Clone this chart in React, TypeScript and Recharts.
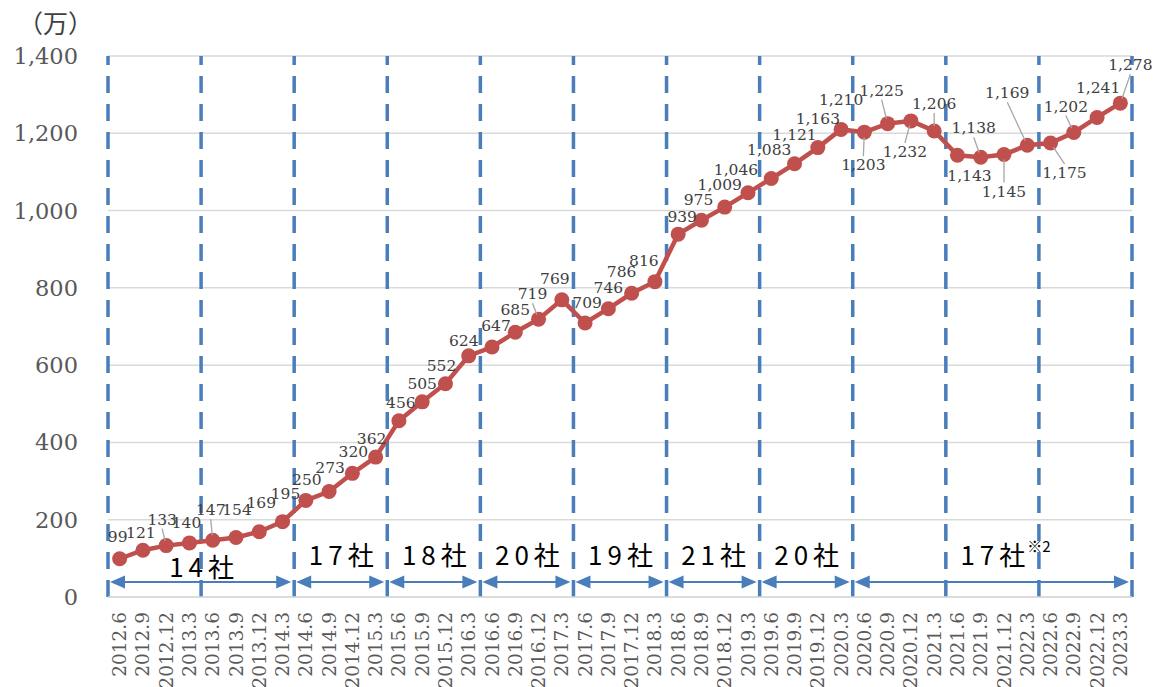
import React from "react";
import {
  LineChart,
  Line,
  XAxis,
  YAxis,
  CartesianGrid,
  ReferenceLine,
  ReferenceArea,
  LabelList,
} from "recharts";

// quarter-end periods (x axis)
const periods = [
  "2012.6", "2012.9", "2012.12", "2013.3",
  "2013.6", "2013.9", "2013.12", "2014.3",
  "2014.6", "2014.9", "2014.12", "2015.3",
  "2015.6", "2015.9", "2015.12", "2016.3",
  "2016.6", "2016.9", "2016.12", "2017.3",
  "2017.6", "2017.9", "2017.12", "2018.3",
  "2018.6", "2018.9", "2018.12", "2019.3",
  "2019.6", "2019.9", "2019.12", "2020.3",
  "2020.6", "2020.9", "2020.12", "2021.3",
  "2021.6", "2021.9", "2021.12", "2022.3",
  "2022.6", "2022.9", "2022.12", "2023.3",
];

// 万
const values = [
  99, 121, 133, 140, 147, 154, 169, 195,
  250, 273, 320, 362, 456, 505, 552, 624,
  647, 685, 719, 769, 709, 746, 786, 816,
  939, 975, 1009, 1046, 1083, 1121, 1163, 1210,
  1203, 1225, 1232, 1206, 1143, 1138, 1145, 1169,
  1175, 1202, 1241, 1278,
];

const yTicks = [0, 200, 400, 600, 800, 1000, 1200, 1400];

// dashed separators at the start of each fiscal year
const yearStarts = [
  "2012.6", "2013.6", "2014.6", "2015.6", "2016.6", "2017.6",
  "2018.6", "2019.6", "2020.6", "2021.6", "2022.6",
];
const lastPeriod = "2023.3";

// number of companies per span
const spanFrom = ["2012.6", "2014.6", "2015.6", "2016.6", "2017.6", "2018.6", "2019.6", "2020.6"];
const spanTo = ["2014.3", "2015.3", "2016.3", "2017.3", "2018.3", "2019.3", "2020.3", "2023.3"];
const spanLabels = ["14社", "17社", "18社", "20社", "19社", "21社", "20社", "17社"];
const spanNotes = ["", "", "", "", "", "", "", "※2"];

// label placement (dx, dy from the point, px) and leader flags
const labelShift: [number, number][] = [
  [-2, -22], [-2, -17], [-4, -26], [-3, -20], [-2, -30], [1, -27], [2, -29], [3, -28],
  [1, -20], [1, -24], [1, -21], [-4, -18], [2, -18], [0, -18], [-4, -18], [-5, -15],
  [4, -21], [0, -22], [-6, -25], [-7, -21], [2, -20], [0, -21], [-10, -21], [-11, -21],
  [4, -17], [-3, -20], [-5, -22], [-12, -23], [-2, -28], [0, -29], [0, -29], [0, -29],
  [-1, 33], [-6, -33], [-6, 31], [0, -27], [12, 21], [-7, -29], [0, 37], [-20, -52],
  [14, 30], [-8, -26], [1, -29], [10, -38],
];
const leaderAt = [2, 4, 18, 32, 33, 34, 35, 37, 38, 39, 40, 41, 43];

const chartData = periods.map((p, i) => ({ idx: i, period: p, users: values[i] }));
const pos = (p: string) => periods.indexOf(p);

const RED = "#c0504d";
const BLUE = "#4a7ebb";
const SERIF = "DejaVu Serif, Liberation Serif, serif";
const GOTHIC = "Noto Sans CJK JP, sans-serif";

const ValueLabel = (props: any) => {
  const { index, value } = props;
  const px = props.x ?? props.viewBox?.x;
  const py = props.y ?? props.viewBox?.y;
  const [dx, dy] = labelShift[index];
  const lx = px + dx;
  const ly = py + dy;
  let leader = null;
  if (leaderAt.includes(index)) {
    const sy = ly + (dy < 0 ? 9 : -9);
    const vx = px - lx;
    const vy = py - sy;
    const len = Math.sqrt(vx * vx + vy * vy);
    const ex = px - (vx / len) * 5;
    const ey = py - (vy / len) * 5;
    leader = <line x1={lx} y1={sy} x2={ex} y2={ey} stroke="#a6a6a6" strokeWidth={1.3} />;
  }
  return (
    <g>
      {leader}
      <text
        x={lx}
        y={ly}
        textAnchor="middle"
        dominantBaseline="central"
        style={{ fontFamily: SERIF, fontSize: 15.5 }}
        fill="#404040"
      >
        {Number(value).toLocaleString("en-US")}
      </text>
    </g>
  );
};

const PeriodTick = (props: any) => {
  const { x, y, payload } = props;
  const ty = y + 15;
  return (
    <text
      x={x}
      y={ty}
      transform={`rotate(-90, ${x}, ${ty})`}
      textAnchor="end"
      dominantBaseline="central"
      style={{ fontFamily: SERIF, fontSize: 18.5 }}
      fill="#595959"
    >
      {periods[payload.value]}
    </text>
  );
};

const spanShape = (i: number) => (props: any) => {
  const { x, y, width, height } = props;
  const ay = y + height - 15;
  const x1 = x + 2;
  const x2 = x + width - 3;
  const ty = y + height - 44 + (i === 0 ? 12 : 0);
  const cx = x + width / 2;
  return (
    <g>
      <line x1={x1 + 12} y1={ay} x2={x2 - 12} y2={ay} stroke={BLUE} strokeWidth={1.8} />
      <polygon points={`${x1},${ay} ${x1 + 15},${ay - 6.5} ${x1 + 15},${ay + 6.5}`} fill={BLUE} />
      <polygon points={`${x2},${ay} ${x2 - 15},${ay - 6.5} ${x2 - 15},${ay + 6.5}`} fill={BLUE} />
      <text
        x={cx + 3}
        y={ty}
        textAnchor="middle"
        dominantBaseline="central"
        style={{ fontFamily: GOTHIC, fontSize: 26, letterSpacing: 5 }}
        fill="#000"
      >
        {spanLabels[i]}
      </text>
      {spanNotes[i] ? (
        <text
          x={cx + 35}
          y={ty - 8}
          dominantBaseline="central"
          style={{ fontFamily: GOTHIC, fontSize: 15 }}
          fill="#000"
        >
          {spanNotes[i]}
        </text>
      ) : null}
    </g>
  );
};

export default function App() {
  return (
    <div style={{ position: "absolute", left: 0, top: 0, width: 1161, height: 687, background: "#fff" }}>
      <div
        style={{
          position: "absolute",
          left: 18,
          top: 7,
          fontFamily: GOTHIC,
          fontSize: 25,
          color: "#404040",
          lineHeight: "30px",
        }}
      >
        （万）
      </div>
      <LineChart width={1161} height={687} data={chartData} margin={{ top: 56, right: 29, bottom: 0, left: 0 }}>
        <CartesianGrid vertical={false} stroke="#d9d9d9" strokeWidth={1.5} />
        <XAxis
          dataKey="idx"
          type="number"
          domain={[-0.5, periods.length - 0.5]}
          ticks={chartData.map((d) => d.idx)}
          interval={0}
          height={90}
          tickLine={false}
          tickSize={0}
          tickMargin={0}
          axisLine={{ stroke: "#d9d9d9", strokeWidth: 1.5 }}
          tick={<PeriodTick />}
        />
        <YAxis
          width={108}
          domain={[0, 1400]}
          ticks={yTicks}
          axisLine={false}
          tickLine={false}
          tickSize={0}
          tickMargin={30}
          tickFormatter={(v: number) => v.toLocaleString("en-US")}
          tick={{ style: { fontFamily: SERIF, fontSize: 22.5 }, fill: "#595959" }}
        />
        {yearStarts.map((p) => (
          <ReferenceLine
            key={p}
            x={pos(p) - 0.5}
            stroke={BLUE}
            strokeWidth={3.5}
            strokeDasharray="17 11"
          />
        ))}
        <ReferenceLine x={pos(lastPeriod) + 0.5} stroke={BLUE} strokeWidth={3.5} strokeDasharray="17 11" />
        {spanFrom.map((from, i) => (
          <ReferenceArea
            key={from}
            x1={pos(from) - 0.5}
            x2={pos(spanTo[i]) + 0.5}
            y1={0}
            y2={200}
            fill="none"
            shape={spanShape(i)}
          />
        ))}
        <Line
          dataKey="users"
          stroke={RED}
          strokeWidth={4.5}
          dot={{ r: 7.5, fill: RED, stroke: RED, strokeWidth: 0 }}
          isAnimationActive={false}
        >
          <LabelList dataKey="users" content={<ValueLabel />} />
        </Line>
      </LineChart>
    </div>
  );
}
